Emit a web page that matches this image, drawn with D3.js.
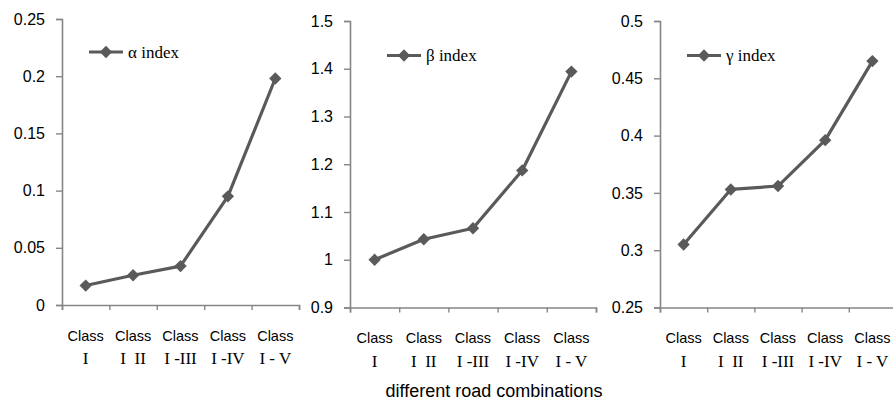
<!DOCTYPE html>
<html><head><meta charset="utf-8">
<script src="https://cdn.jsdelivr.net/npm/d3@7"></script>
<style>
html,body{margin:0;padding:0;background:#fff;}
svg{display:block;}
</style></head>
<body>
<svg id="c" width="893" height="401"></svg>
<script>
const categoryTop = ["Class","Class","Class","Class","Class"];
const categoryBottom = ["I","I  II","I -III","I -IV","I - V"];
const alphaValues = [0.017, 0.026, 0.034, 0.095, 0.198];
const betaValues  = [1.000, 1.043, 1.066, 1.187, 1.394];
const gammaValues = [0.305, 0.353, 0.356, 0.396, 0.465];
const alphaTicks = [0, 0.05, 0.1, 0.15, 0.2, 0.25];
const betaTicks  = [0.9, 1, 1.1, 1.2, 1.3, 1.4, 1.5];
const gammaTicks = [0.25, 0.3, 0.35, 0.4, 0.45, 0.5];
const seriesNames = ["α index","β index","γ index"];
const xTitle = "different road combinations";

const panels = [
  {values: alphaValues, ticks: alphaTicks, name: seriesNames[0], x0: 62, x1: 299, yTop: 19, yBot: 305, legX: 89, legY: 52},
  {values: betaValues,  ticks: betaTicks,  name: seriesNames[1], x0: 350, x1: 596, yTop: 21, yBot: 307.5, legX: 387, legY: 55.5},
  {values: gammaValues, ticks: gammaTicks, name: seriesNames[2], x0: 660, x1: 896, yTop: 21, yBot: 307.5, legX: 687, legY: 55.5}
];

const svg = d3.select("#c");
const axisColor = "#868686";
const lineColor = "#5a5a5a";
const sans = "'Liberation Sans', Arial, sans-serif";
const serif = "'Liberation Serif', 'Times New Roman', serif";
const diamond = d3.symbol().type(d3.symbolSquare).size(76);

panels.forEach(p => {
  const g = svg.append("g");
  const x = d3.scaleBand().domain(d3.range(p.values.length)).range([p.x0, p.x1]).paddingInner(0).paddingOuter(0);
  const xb = d3.scaleLinear().domain([0, p.values.length]).range([p.x0, p.x1]);
  const y = d3.scaleLinear().domain([p.ticks[0], p.ticks[p.ticks.length-1]]).range([p.yBot, p.yTop]);

  // y axis
  const ya = g.append("g").attr("transform", `translate(${p.x0},0)`)
    .call(d3.axisLeft(y).tickValues(p.ticks).tickSize(6).tickPadding(11).tickFormat(d => String(+d.toFixed(2))));
  ya.select(".domain").attr("stroke", axisColor).attr("stroke-width", 1.6);
  ya.selectAll(".tick line").attr("stroke", axisColor).attr("stroke-width", 1.4);
  ya.selectAll(".tick text").attr("fill", "#000").style("font-family", sans).style("font-size", "16px");

  // x axis (boundary ticks)
  const xa = g.append("g").attr("transform", `translate(0,${p.yBot})`)
    .call(d3.axisBottom(xb).tickValues(d3.range(p.values.length + 1)).tickSize(5).tickFormat(""));
  xa.select(".domain").attr("stroke", axisColor).attr("stroke-width", 1.6);
  xa.selectAll(".tick line").attr("stroke", axisColor).attr("stroke-width", 1.4);

  // category labels
  const cx = i => x(i) + x.bandwidth() / 2;
  g.selectAll(".ct").data(categoryTop).join("text")
    .attr("x", (d, i) => cx(i)).attr("y", p.yBot + 35.5)
    .attr("text-anchor", "middle").style("font-family", sans).style("font-size", "14.5px").attr("fill", "#000")
    .text(d => d);
  g.selectAll(".cb").data(categoryBottom).join("text")
    .attr("x", (d, i) => cx(i)).attr("y", p.yBot + 59)
    .attr("text-anchor", "middle").style("font-family", serif).style("font-size", "17px").attr("fill", "#000")
    .style("white-space", "pre").attr("xml:space", "preserve")
    .text(d => d);

  // line
  const line = d3.line().x((d, i) => cx(i)).y(d => y(d));
  g.append("path").datum(p.values).attr("d", line)
    .attr("fill", "none").attr("stroke", lineColor).attr("stroke-width", 3.2).attr("stroke-linejoin", "round");
  g.selectAll(".pt").data(p.values).join("path")
    .attr("d", diamond).attr("fill", lineColor)
    .attr("transform", (d, i) => `translate(${cx(i)},${y(d)}) rotate(45)`);

  // legend
  g.append("line").attr("x1", p.legX).attr("x2", p.legX + 34).attr("y1", p.legY).attr("y2", p.legY)
    .attr("stroke", lineColor).attr("stroke-width", 3.2);
  g.append("path").attr("d", diamond).attr("fill", lineColor)
    .attr("transform", `translate(${p.legX + 17},${p.legY}) rotate(45)`);
  g.append("text").attr("x", p.legX + 39).attr("y", p.legY + 5.5)
    .style("font-family", serif).style("font-size", "17px").attr("fill", "#000").text(p.name);
});

svg.append("text").attr("x", 494).attr("y", 397).attr("text-anchor", "middle")
  .style("font-family", sans).style("font-size", "18px").attr("fill", "#000").text(xTitle);
</script>
</body></html>
